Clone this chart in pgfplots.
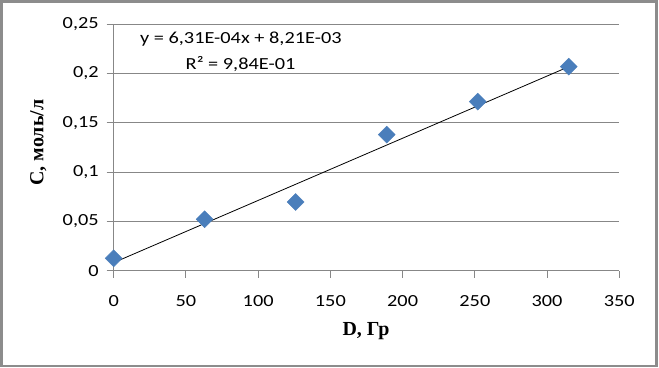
\documentclass[border=0pt]{standalone}
\usepackage{pgfplots}
\pgfplotsset{compat=1.18}
\usepackage{fontspec}
\setmainfont{Carlito}[FakeStretch=1.2]
\newfontfamily\serifb{Liberation Serif}
\definecolor{gridgray}{HTML}{878787}
\definecolor{frame}{HTML}{8C8C8C}
\definecolor{mblue}{HTML}{4A7EBB}
\begin{document}
\begin{tikzpicture}[x=1bp,y=1bp]
\useasboundingbox (0,0) rectangle (659,367);
\fill[white] (0,0) rectangle (659,367);
\draw[color=frame, line width=2.5bp] (1.25,1.25) rectangle (656.5,365.5);
\begin{axis}[
  at={(113.7bp,96.3bp)}, anchor=south west,
  scale only axis, width=505.6bp, height=246.4bp,
  xmin=0, xmax=350, ymin=0, ymax=0.25,
  xtick={0,50,100,150,200,250,300,350},
  ytick={0,0.05,0.1,0.15,0.2,0.25},
  axis lines=left,
  axis line style={-, draw=gridgray, line width=0.9bp},
  tick align=outside,
  major tick length=7bp,
  tick style={draw=gridgray, line width=0.9bp},
  ymajorgrids=true,
  grid style={draw=gridgray, line width=0.9bp},
  /pgf/number format/assume math mode=true,
  /pgf/number format/use comma,
  /pgf/number format/fixed,
  /pgf/number format/precision=2,
  scaled y ticks=false,
  tick label style={font=\fontsize{17}{20}\selectfont},
  yticklabel style={xshift=-4.5bp},
  xticklabel style={yshift=-14bp},
  xlabel={\serifb\bfseries D, Гр},
  ylabel={\serifb\bfseries C, моль/л},
  label style={font=\fontsize{20}{22}\selectfont},
  xlabel style={at={(axis description cs:0.499,-0.261)}, anchor=base},
  ylabel style={at={(axis description cs:-0.149,0.52)}, anchor=center},
  clip=false,
]
\addplot[black, line width=0.8bp, no marks] coordinates {(0,0.00821) (315,0.20697)};
\addplot[only marks, mark=square*, mark size=6bp,
  mark options={rotate=45, fill=mblue, draw=mblue}]
  coordinates {(0,0.0126) (63,0.0522) (126,0.0697) (189,0.138) (252,0.1715) (315,0.207)};
\node[font=\fontsize{17}{20}\selectfont, anchor=base] at (axis cs:88,0.2307) {y = 6,31E-04x + 8,21E-03};
\node[font=\fontsize{17}{20}\selectfont, anchor=base] at (axis cs:87.8,0.2041) {R² = 9,84E-01};
\end{axis}
\end{tikzpicture}
\end{document}
